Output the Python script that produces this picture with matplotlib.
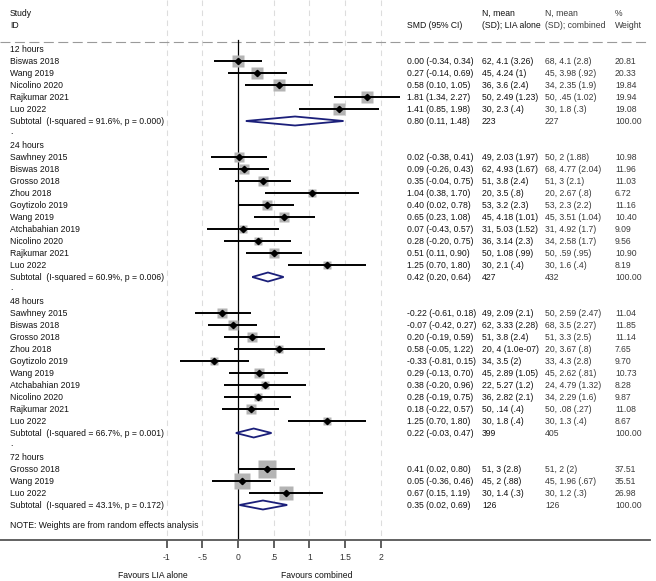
import numpy as np
import matplotlib
matplotlib.use('Agg')
import matplotlib.pyplot as plt
from matplotlib.patches import Polygon

plt.rcParams['font.family'] = ['Liberation Sans', 'DejaVu Sans']

# ---- data ----
group_names = ['12 hours', '24 hours', '48 hours', '72 hours']

studies_12 = ['Biswas 2018', 'Wang 2019', 'Nicolino 2020', 'Rajkumar 2021', 'Luo 2022']
smd_12 = [0.00, 0.27, 0.58, 1.81, 1.41]
lo_12 = [-0.34, -0.14, 0.10, 1.34, 0.85]
hi_12 = [0.34, 0.69, 1.05, 2.27, 1.98]
lia_12 = ['62, 4.1 (3.26)', '45, 4.24 (1)', '36, 3.6 (2.4)', '50, 2.49 (1.23)', '30, 2.3 (.4)']
comb_12 = ['68, 4.1 (2.8)', '45, 3.98 (.92)', '34, 2.35 (1.9)', '50, .45 (1.02)', '30, 1.8 (.3)']
wt_12 = [20.81, 20.33, 19.84, 19.94, 19.08]

studies_24 = ['Sawhney 2015', 'Biswas 2018', 'Grosso 2018', 'Zhou 2018', 'Goytizolo 2019',
              'Wang 2019', 'Atchabahian 2019', 'Nicolino 2020', 'Rajkumar 2021', 'Luo 2022']
smd_24 = [0.02, 0.09, 0.35, 1.04, 0.40, 0.65, 0.07, 0.28, 0.51, 1.25]
lo_24 = [-0.38, -0.26, -0.04, 0.38, 0.02, 0.23, -0.43, -0.20, 0.11, 0.70]
hi_24 = [0.41, 0.43, 0.75, 1.70, 0.78, 1.08, 0.57, 0.75, 0.90, 1.80]
lia_24 = ['49, 2.03 (1.97)', '62, 4.93 (1.67)', '51, 3.8 (2.4)', '20, 3.5 (.8)', '53, 3.2 (2.3)',
          '45, 4.18 (1.01)', '31, 5.03 (1.52)', '36, 3.14 (2.3)', '50, 1.08 (.99)', '30, 2.1 (.4)']
comb_24 = ['50, 2 (1.88)', '68, 4.77 (2.04)', '51, 3 (2.1)', '20, 2.67 (.8)', '53, 2.3 (2.2)',
           '45, 3.51 (1.04)', '31, 4.92 (1.7)', '34, 2.58 (1.7)', '50, .59 (.95)', '30, 1.6 (.4)']
wt_24 = [10.98, 11.96, 11.03, 6.72, 11.16, 10.40, 9.09, 9.56, 10.90, 8.19]

studies_48 = ['Sawhney 2015', 'Biswas 2018', 'Grosso 2018', 'Zhou 2018', 'Goytizolo 2019',
              'Wang 2019', 'Atchabahian 2019', 'Nicolino 2020', 'Rajkumar 2021', 'Luo 2022']
smd_48 = [-0.22, -0.07, 0.20, 0.58, -0.33, 0.29, 0.38, 0.28, 0.18, 1.25]
lo_48 = [-0.61, -0.42, -0.19, -0.05, -0.81, -0.13, -0.20, -0.19, -0.22, 0.70]
hi_48 = [0.18, 0.27, 0.59, 1.22, 0.15, 0.70, 0.96, 0.75, 0.57, 1.80]
lia_48 = ['49, 2.09 (2.1)', '62, 3.33 (2.28)', '51, 3.8 (2.4)', '20, 4 (1.0e-07)', '34, 3.5 (2)',
          '45, 2.89 (1.05)', '22, 5.27 (1.2)', '36, 2.82 (2.1)', '50, .14 (.4)', '30, 1.8 (.4)']
comb_48 = ['50, 2.59 (2.47)', '68, 3.5 (2.27)', '51, 3.3 (2.5)', '20, 3.67 (.8)', '33, 4.3 (2.8)',
           '45, 2.62 (.81)', '24, 4.79 (1.32)', '34, 2.29 (1.6)', '50, .08 (.27)', '30, 1.3 (.4)']
wt_48 = [11.04, 11.85, 11.14, 7.65, 9.70, 10.73, 8.28, 9.87, 11.08, 8.67]

studies_72 = ['Grosso 2018', 'Wang 2019', 'Luo 2022']
smd_72 = [0.41, 0.05, 0.67]
lo_72 = [0.02, -0.36, 0.15]
hi_72 = [0.80, 0.46, 1.19]
lia_72 = ['51, 3 (2.8)', '45, 2 (.88)', '30, 1.4 (.3)']
comb_72 = ['51, 2 (2)', '45, 1.96 (.67)', '30, 1.2 (.3)']
wt_72 = [37.51, 35.51, 26.98]

sub_i2 = [91.6, 60.9, 66.7, 43.1]
sub_p = [0.000, 0.006, 0.001, 0.172]
sub_smd = [0.80, 0.42, 0.22, 0.35]
sub_lo = [0.11, 0.20, -0.03, 0.02]
sub_hi = [1.48, 0.64, 0.47, 0.69]
sub_n_lia = [223, 427, 399, 126]
sub_n_comb = [227, 432, 405, 126]

tick_vals = [-1, -0.5, 0, 0.5, 1, 1.5, 2]
tick_labels = ['-1', '-.5', '0', '.5', '1', '1.5', '2']

# ---- layout (pixels) ----
W, H = 656, 581
PX_PER_UNIT = 71.3
X0 = 238          # pixel of SMD = 0
AX_RIGHT = 650
AX_BOTTOM = 540
FS = 6.2


def px(x):
    return (x - X0) / PX_PER_UNIT


def row_y(i):
    return 49 + 12 * i


fig = plt.figure(figsize=(W / 100, H / 100), dpi=100)
ax = fig.add_axes([0, (H - AX_BOTTOM) / H, AX_RIGHT / W, AX_BOTTOM / H])
ax.set_xlim(px(0), px(AX_RIGHT))
ax.set_ylim(AX_BOTTOM, 0)

for s in ['top', 'left', 'right']:
    ax.spines[s].set_visible(False)
ax.spines['bottom'].set_linewidth(1.3)
ax.spines['bottom'].set_color('#555555')
ax.set_yticks([])
ax.set_xticks(tick_vals)
ax.set_xticklabels(tick_labels)
ax.tick_params(axis='x', direction='out', length=6, width=1.2, color='#444444',
               labelsize=FS, labelcolor='#333333', pad=3)

# grid lines
for t in tick_vals:
    if t == 0:
        ax.plot([0, 0], [40, AX_BOTTOM], color='black', lw=0.9, zorder=2)
    else:
        ax.plot([t, t], [0, AX_BOTTOM], color='#dddddd', lw=0.8, dashes=(5, 4), zorder=1)
ax.axhline(42, color='#9a9a9a', lw=0.8, dashes=(9, 4), zorder=1)

# column positions
col_smd = px(407)
col_lia = px(482)
col_comb = px(545)
col_wt = px(615)
col_lab = px(10)

dark = '#111111'
light = '#3a3a3a'

# headers
ax.text(col_lab, 13, 'Study', fontsize=FS, color=dark, va='center')
ax.text(col_lab, 25, 'ID', fontsize=FS, color=dark, va='center')
ax.text(col_smd, 25, 'SMD (95% CI)', fontsize=FS, color=dark, va='center')
ax.text(col_lia, 13, 'N, mean', fontsize=FS, color=dark, va='center')
ax.text(col_lia, 25, '(SD); LIA alone', fontsize=FS, color=dark, va='center')
ax.text(col_comb, 13, 'N, mean', fontsize=FS, color=light, va='center')
ax.text(col_comb, 25, '(SD); combined', fontsize=FS, color=light, va='center')
ax.text(col_wt, 13, '%', fontsize=FS, color=light, va='center')
ax.text(col_wt, 25, 'Weight', fontsize=FS, color=light, va='center')


def ci_text(m, lo, hi):
    return '%.2f (%.2f, %.2f)' % (m, lo, hi)


def draw_group(start, g, studies, smd, lo, hi, lia, comb, wt):
    ax.text(col_lab, row_y(start), group_names[g], fontsize=FS, color=dark, va='center')
    for k in range(len(studies)):
        y = row_y(start + 1 + k)
        ax.text(col_lab, y, studies[k], fontsize=FS, color=dark, va='center')
        ax.plot(smd[k], y, marker='s', ms=2.05 * np.sqrt(wt[k]), color='#b4b4b4',
                mec='none', zorder=3)
        ax.plot([lo[k], hi[k]], [y, y], color='black', lw=1.4, zorder=4,
                solid_capstyle='butt')
        ax.plot(smd[k], y, marker='D', ms=3.2, color='black', zorder=5)
        ax.text(col_smd, y, ci_text(smd[k], lo[k], hi[k]), fontsize=FS, color=dark, va='center')
        ax.text(col_lia, y, lia[k], fontsize=FS, color=dark, va='center')
        ax.text(col_comb, y, comb[k], fontsize=FS, color=light, va='center')
        ax.text(col_wt, y, '%.2f' % wt[k], fontsize=FS, color=light, va='center')
    y = row_y(start + 1 + len(studies))
    ax.text(col_lab, y, 'Subtotal  (I-squared = %.1f%%, p = %.3f)' % (sub_i2[g], sub_p[g]),
            fontsize=FS, color=dark, va='center')
    d = Polygon([(sub_lo[g], y), (sub_smd[g], y - 4.5), (sub_hi[g], y), (sub_smd[g], y + 4.5)],
                closed=True, facecolor='white', edgecolor='#1b1f7a', lw=1.3, zorder=5)
    ax.add_patch(d)
    ax.text(col_smd, y, ci_text(sub_smd[g], sub_lo[g], sub_hi[g]), fontsize=FS, color=dark, va='center')
    ax.text(col_lia, y, str(sub_n_lia[g]), fontsize=FS, color=dark, va='center')
    ax.text(col_comb, y, str(sub_n_comb[g]), fontsize=FS, color=light, va='center')
    ax.text(col_wt, y, '100.00', fontsize=FS, color=light, va='center')
    end = start + 2 + len(studies)
    if g < 3:
        ax.text(col_lab, row_y(end) - 2, '.', fontsize=FS, color=dark, va='center')
    return end + 1


r = 0
r = draw_group(r, 0, studies_12, smd_12, lo_12, hi_12, lia_12, comb_12, wt_12)
r = draw_group(r, 1, studies_24, smd_24, lo_24, hi_24, lia_24, comb_24, wt_24)
r = draw_group(r, 2, studies_48, smd_48, lo_48, hi_48, lia_48, comb_48, wt_48)
r = draw_group(r, 3, studies_72, smd_72, lo_72, hi_72, lia_72, comb_72, wt_72)

ax.text(col_lab, 526, 'NOTE: Weights are from random effects analysis', fontsize=FS,
        color=dark, va='center')

ax.text(px(153), 575, 'Favours LIA alone', fontsize=FS, color=dark, ha='center',
        va='center', clip_on=False)
ax.text(px(317), 575, 'Favours combined', fontsize=FS, color=dark, ha='center',
        va='center', clip_on=False)

fig.savefig('out.png', dpi=100, facecolor='white')
